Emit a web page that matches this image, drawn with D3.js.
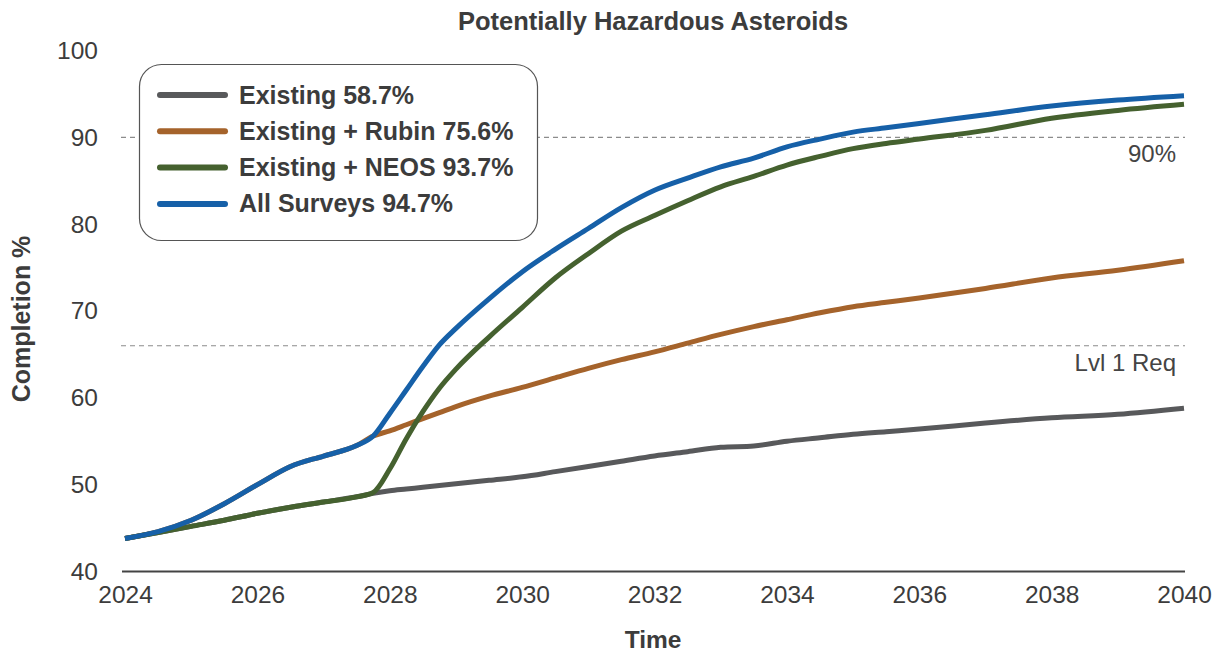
<!DOCTYPE html>
<html>
<head>
<meta charset="utf-8">
<script src="https://cdn.jsdelivr.net/npm/d3@7"></script>
<style>
  html, body { margin: 0; padding: 0; background: #ffffff; }
  svg { display: block; font-family: "Liberation Sans", Arial, Helvetica, sans-serif; }
</style>
</head>
<body>
<svg id="chart" width="1219" height="655"></svg>
<script>
// ---------------- data ----------------
const years = [2024, 2024.5, 2025, 2025.5, 2026, 2026.5, 2027, 2027.5, 2027.75,
  2028, 2028.25, 2028.5, 2028.75, 2029, 2029.5, 2030, 2030.5, 2031, 2031.5,
  2032, 2032.5, 2033, 2033.5, 2034, 2034.5, 2035, 2035.5, 2036, 2037, 2038, 2039, 2040];

const existing = [43.8, 44.5, 45.2, 45.9, 46.7, 47.4, 48.0, 48.6, 49.0,
  49.3, 49.5, 49.7, 49.9, 50.1, 50.5, 50.9, 51.5, 52.1, 52.7,
  53.3, 53.8, 54.3, 54.45, 55.0, 55.4, 55.8, 56.1, 56.4, 57.1, 57.7, 58.1, 58.8];

const existingRubin = [43.8, 44.6, 45.9, 47.8, 50.0, 52.1, 53.3, 54.5, 55.6,
  56.2, 56.9, 57.6, 58.3, 59.0, 60.2, 61.2, 62.3, 63.4, 64.4,
  65.3, 66.3, 67.3, 68.2, 69.0, 69.8, 70.5, 71.0, 71.5, 72.6, 73.8, 74.7, 75.8];

const existingNeos = [43.8, 44.5, 45.2, 45.9, 46.7, 47.4, 48.0, 48.6, 49.1,
  51.8, 55.3, 58.4, 61.1, 63.3, 67.0, 70.4, 73.8, 76.6, 79.2,
  81.0, 82.7, 84.3, 85.5, 86.8, 87.8, 88.7, 89.3, 89.8, 90.8, 92.2, 93.1, 93.8];

const allSurveys = [43.8, 44.6, 45.9, 47.8, 50.0, 52.1, 53.3, 54.5, 55.6,
  58.2, 60.9, 63.6, 66.1, 68.0, 71.4, 74.5, 77.1, 79.5, 81.9,
  83.9, 85.3, 86.6, 87.6, 88.9, 89.8, 90.6, 91.1, 91.6, 92.6, 93.6, 94.3, 94.8];

const seriesNames = ["Existing 58.7%", "Existing + Rubin 75.6%", "Existing + NEOS 93.7%", "All Surveys 94.7%"];
const seriesValues = [existing, existingRubin, existingNeos, allSurveys];
const seriesColors = ["#58595b", "#a5632b", "#45612f", "#1660a8"];

const xTicks = [2024, 2026, 2028, 2030, 2032, 2034, 2036, 2038, 2040];
const yTicks = [40, 50, 60, 70, 80, 90, 100];

const refLines = [90, 66];
const refLabels = ["90%", "Lvl 1 Req"];

const titleText = "Potentially Hazardous Asteroids";
const xTitle = "Time";
const yTitle = "Completion %";

// ---------------- chart ----------------
const svg = d3.select("#chart");
const textColor = "#3c3c3c";

const x = d3.scaleLinear().domain([2024, 2040]).range([125, 1184]);
const y = d3.scaleLinear().domain([40, 100]).range([571.5, 50.5]);

// title
svg.append("text")
  .attr("x", 653).attr("y", 30)
  .attr("text-anchor", "middle")
  .attr("font-weight", "bold")
  .attr("font-size", 25.5)
  .attr("fill", textColor)
  .text(titleText);

// reference dashed lines
refLines.forEach((v, i) => {
  svg.append("line")
    .attr("x1", x(2024) - 4).attr("x2", x(2040) + 1)
    .attr("y1", y(v)).attr("y2", y(v))
    .attr("stroke", "#8c8c8c")
    .attr("stroke-width", 1.1)
    .attr("stroke-dasharray", "5,4");
  svg.append("text")
    .attr("x", x(2040) - 8)
    .attr("y", y(v) + 25)
    .attr("text-anchor", "end")
    .attr("font-size", 24)
    .attr("fill", "#444")
    .text(refLabels[i]);
});

// x axis
const xAxis = svg.append("g")
  .attr("transform", `translate(0,${y(40)})`)
  .call(d3.axisBottom(x).tickValues(xTicks).tickFormat(d3.format("d")).tickSize(0).tickPadding(14));
xAxis.select(".domain").remove();
xAxis.selectAll("text")
  .attr("font-size", 24.5).attr("fill", textColor)
  .attr("font-family", "Liberation Sans, Arial, sans-serif");
svg.append("line")
  .attr("x1", x(2024) - 3).attr("x2", x(2040) + 1)
  .attr("y1", y(40)).attr("y2", y(40))
  .attr("stroke", "#444").attr("stroke-width", 2.2);

// y axis
const yAxis = svg.append("g")
  .attr("transform", `translate(${x(2024)},0)`)
  .call(d3.axisLeft(y).tickValues(yTicks).tickFormat(d3.format("d")).tickSize(0).tickPadding(27));
yAxis.select(".domain").remove();
yAxis.selectAll("text")
  .attr("font-size", 24.5).attr("fill", textColor)
  .attr("font-family", "Liberation Sans, Arial, sans-serif");

// axis titles
svg.append("text")
  .attr("x", 653).attr("y", 648)
  .attr("text-anchor", "middle")
  .attr("font-weight", "bold").attr("font-size", 24.5)
  .attr("fill", textColor)
  .text(xTitle);
svg.append("text")
  .attr("transform", `translate(30,${(y(40) + y(100)) / 2 + 8}) rotate(-90)`)
  .attr("text-anchor", "middle")
  .attr("font-weight", "bold").attr("font-size", 25)
  .attr("fill", textColor)
  .text(yTitle);

// lines
const line = d3.line()
  .x((d, i) => x(years[i]))
  .y(d => y(d))
  .curve(d3.curveMonotoneX);

seriesValues.forEach((vals, k) => {
  svg.append("path")
    .datum(vals)
    .attr("d", line)
    .attr("fill", "none")
    .attr("stroke", seriesColors[k])
    .attr("stroke-width", 5)
    .attr("stroke-linejoin", "round");
});

// legend
const legend = svg.append("g");
legend.append("rect")
  .attr("x", 139.5).attr("y", 64.5)
  .attr("width", 398).attr("height", 176)
  .attr("rx", 22).attr("ry", 22)
  .attr("fill", "#fff")
  .attr("stroke", "#555").attr("stroke-width", 1.2);
seriesNames.forEach((name, k) => {
  const cy = 95 + k * 36.3;
  legend.append("line")
    .attr("x1", 160).attr("x2", 225)
    .attr("y1", cy).attr("y2", cy)
    .attr("stroke", seriesColors[k])
    .attr("stroke-width", 6)
    .attr("stroke-linecap", "round");
  legend.append("text")
    .attr("x", 239).attr("y", cy + 8.5)
    .attr("font-weight", "bold").attr("font-size", 25)
    .attr("fill", textColor)
    .text(name);
});
</script>
</body>
</html>
